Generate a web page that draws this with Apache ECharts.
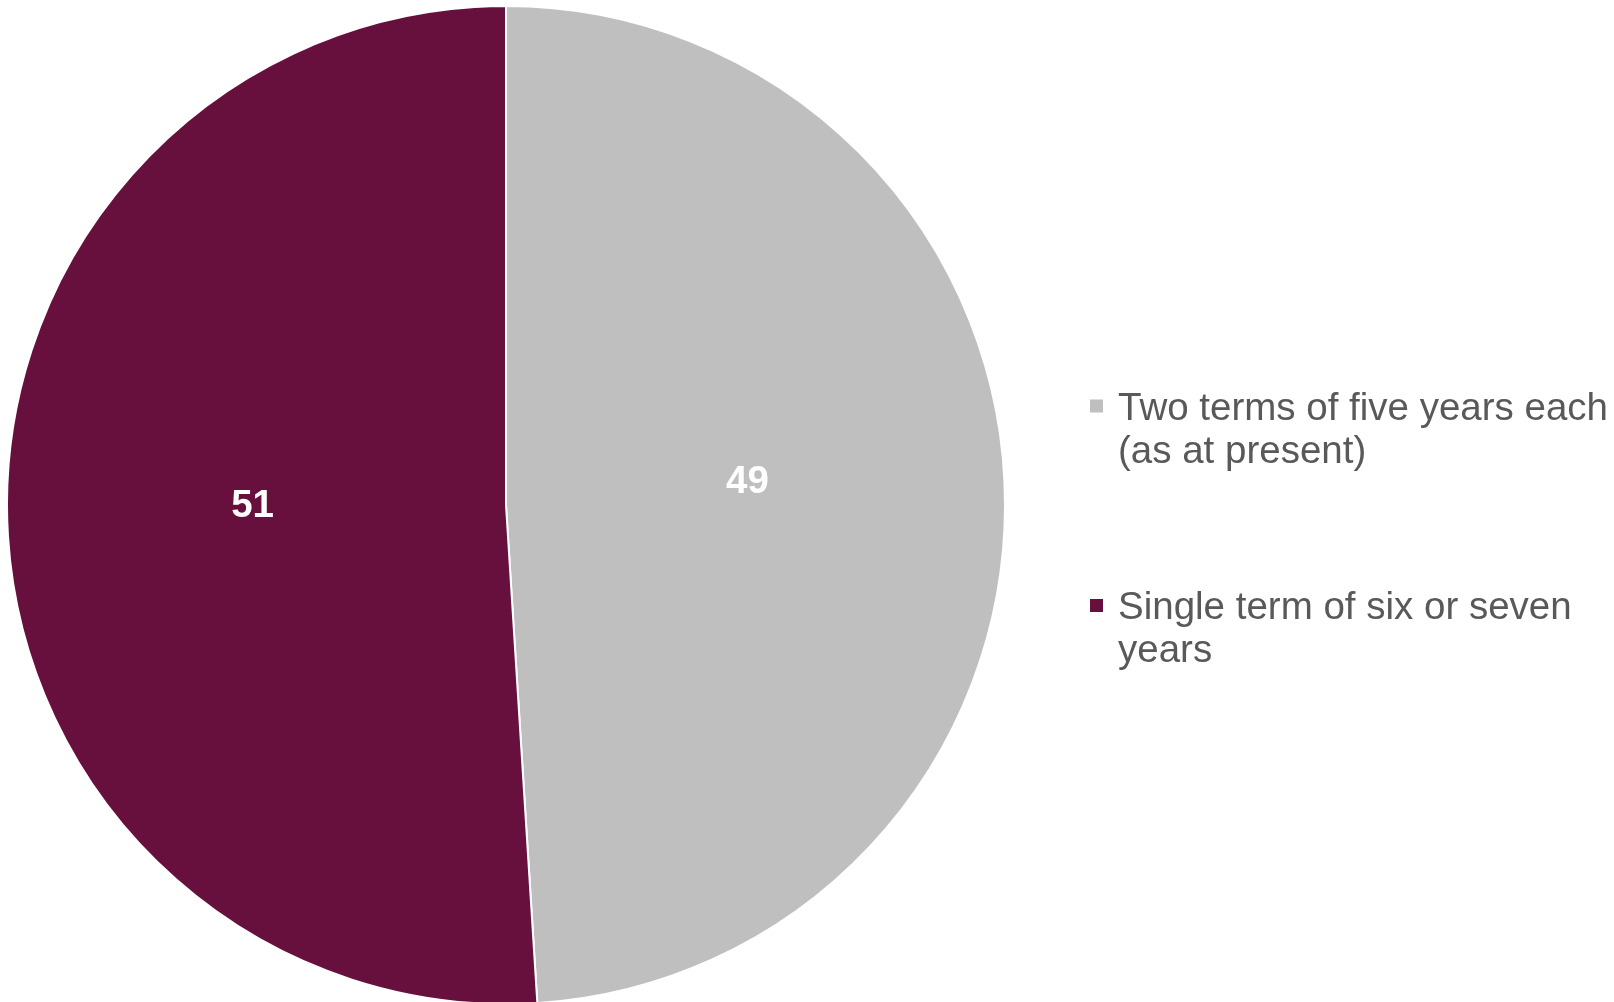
<!DOCTYPE html>
<html>
<head>
<meta charset="utf-8">
<script src="https://cdn.jsdelivr.net/npm/echarts@6/dist/echarts.min.js"></script>
<style>
html,body{margin:0;padding:0;background:#fff;}
#chart{width:1614px;height:1002px;}
</style>
</head>
<body>
<div id="chart"></div>
<script>
var categories = ['Two terms of five years each (as at present)', 'Single term of six or seven years'];
var values = [49, 51];
var colors = ['#BFBFBF', '#67103D'];
var legendLines = {
  'Two terms of five years each (as at present)': ['Two terms of five years each', '(as at present)'],
  'Single term of six or seven years': ['Single term of six or seven', 'years']
};
var labelOffsets = [[-11, -15], [-1, -7]];

var chart = echarts.init(document.getElementById('chart'), null, {renderer: 'canvas'});
var data = categories.map(function (c, i) {
  return {
    name: c,
    value: values[i],
    itemStyle: {color: colors[i]},
    label: {offset: labelOffsets[i]}
  };
});
var font = 'Liberation Sans, Arial, sans-serif';
chart.setOption({
  animation: false,
  backgroundColor: '#ffffff',
  legend: {
    orient: 'vertical',
    left: 1088,
    top: 358,
    padding: 0,
    itemWidth: 15,
    itemHeight: 15,
    itemGap: 86,
    icon: 'rect',
    selectedMode: false,
    data: categories,
    formatter: function (n) {
      return '{e| }\n' + legendLines[n].map(function (s) { return '{t|' + s + '}'; }).join('\n');
    },
    textStyle: {
      fontFamily: font,
      fontSize: 38.5,
      color: '#595959',
      padding: [0, 0, 0, 9],
      rich: {
        e: {fontSize: 10, lineHeight: 49},
        t: {fontFamily: font, fontSize: 38.5, lineHeight: 43, color: '#595959'}
      }
    }
  },
  series: [{
    type: 'pie',
    center: [506, 505],
    radius: 499,
    startAngle: 90,
    clockwise: true,
    avoidLabelOverlap: false,
    data: data,
    itemStyle: {borderColor: '#ffffff', borderWidth: 2},
    label: {
      show: true,
      position: 'inside',
      formatter: '{c}',
      color: '#ffffff',
      fontFamily: font,
      fontWeight: 'bold',
      fontSize: 38.5
    },
    labelLine: {show: false},
    emphasis: {disabled: true}
  }]
});
</script>
</body>
</html>
